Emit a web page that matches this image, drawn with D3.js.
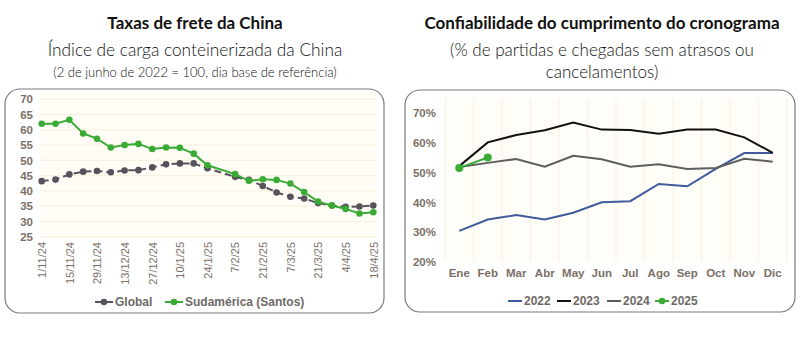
<!DOCTYPE html>
<html>
<head>
<meta charset="utf-8">
<script src="https://cdn.jsdelivr.net/npm/d3@7/dist/d3.min.js"></script>
<style>
  body { margin: 0; background: #fff; }
  svg { display: block; }
</style>
</head>
<body>
<div id="chart"></div>
<script>
// ---------------- data ----------------
var weeks = ["1/11/24","8/11/24","15/11/24","22/11/24","29/11/24","6/12/24","13/12/24","20/12/24",
  "27/12/24","3/1/25","10/1/25","17/1/25","24/1/25","31/1/25","7/2/25","14/2/25","21/2/25","28/2/25",
  "7/3/25","14/3/25","21/3/25","28/3/25","4/4/25","11/4/25","18/4/25"];
var globalIdx = [43.2,43.7,45.4,46.3,46.5,46.1,46.7,46.8,47.7,48.7,49.0,49.0,47.4,null,44.6,43.6,
  41.6,39.5,38.1,37.5,36.0,35.2,34.8,34.9,35.2];
var santosIdx = [62.0,62.0,63.3,58.8,57.1,54.2,55.0,55.4,53.7,54.2,54.1,52.2,48.4,null,45.5,43.3,
  43.8,43.6,42.4,39.6,36.5,35.2,34.1,32.6,33.0];
var leftTicks = [25,30,35,40,45,50,55,60,65,70];

var months = ["Ene","Feb","Mar","Abr","May","Jun","Jul","Ago","Sep","Oct","Nov","Dic"];
var y2022 = [30.4,34.2,35.7,34.2,36.5,40.0,40.4,46.2,45.4,51.3,56.6,56.6];
var y2023 = [52.2,60.2,62.7,64.3,66.9,64.5,64.4,63.1,64.5,64.5,61.9,56.7];
var y2024 = [51.9,53.3,54.6,52.0,55.7,54.5,52.0,52.8,51.2,51.6,54.7,53.7];
var y2025 = [51.6,55.1];
var rightTicks = [20,30,40,50,60,70];

var W = 800, H = 363;
var svg = d3.select("#chart").append("svg").attr("width", W).attr("height", H);

var tickColor = "#7b7068";
var labelFont = "'Liberation Sans', Arial, sans-serif";

//////////////////// titles ////////////////////
function title(x, lines) {
  lines.forEach(function (l) {
    svg.append("text")
      .attr("x", x).attr("y", l.y)
      .attr("text-anchor", "middle")
      .attr("font-family", "Lato, 'Open Sans', sans-serif")
      .attr("font-size", l.size)
      .attr("font-weight", l.weight)
      .attr("fill", "#111")
      .text(l.t);
  });
}
title(195, [
  {t: "Taxas de frete da China", y: 29, size: 17, weight: 700},
  {t: "Índice de carga conteinerizada da China", y: 56, size: 17.3, weight: 300},
  {t: "(2 de junho de 2022 = 100, dia base de referência)", y: 77, size: 13, weight: 300}
]);
title(602, [
  {t: "Confiabilidade do cumprimento do cronograma", y: 29, size: 17, weight: 700},
  {t: "(% de partidas e chegadas sem atrasos ou", y: 56, size: 17, weight: 300},
  {t: "cancelamentos)", y: 78, size: 17, weight: 300}
]);

//////////////////// panel boxes ////////////////////
svg.append("rect").attr("x", 5).attr("y", 89).attr("width", 379).attr("height", 224)
  .attr("rx", 15).attr("fill", "#fff").attr("stroke", "#7a7a7a").attr("stroke-width", 1.2);
svg.append("rect").attr("x", 405).attr("y", 90).attr("width", 390).attr("height", 222)
  .attr("rx", 15).attr("fill", "#fff").attr("stroke", "#7a7a7a").attr("stroke-width", 1.2);

//////////////////// left chart ////////////////////
var xL = d3.scalePoint().domain(weeks).range([41.7, 373.3]);
var yL = d3.scaleLinear().domain([25, 70]).range([236.7, 99.3]);

var L = svg.append("g");
L.append("rect").attr("x", 40).attr("y", 93).attr("width", 336).attr("height", 145)
  .attr("fill", "#fffdf6");
L.selectAll(".gridL").data(leftTicks).enter().append("line")
  .attr("x1", 40).attr("x2", 376)
  .attr("y1", function (d) { return yL(d); }).attr("y2", function (d) { return yL(d); })
  .attr("stroke", "#fbeedd").attr("stroke-width", 1);

var yAxisL = L.append("g").attr("transform", "translate(35,0)")
  .call(d3.axisLeft(yL).tickValues(leftTicks).tickSize(0).tickPadding(2));
yAxisL.select(".domain").remove();
yAxisL.selectAll("text").attr("font-family", labelFont).attr("font-size", 11.5)
  .attr("font-weight", "bold").attr("fill", tickColor);

var xAxisL = L.append("g").attr("transform", "translate(0,238)")
  .call(d3.axisBottom(xL).tickValues(weeks.filter(function (d, i) { return i % 2 === 0; }))
    .tickSize(0));
xAxisL.select(".domain").remove();
xAxisL.selectAll("text")
  .attr("transform", "rotate(-90)")
  .attr("x", -4).attr("y", 0).attr("dy", "0.35em")
  .style("text-anchor", "end")
  .attr("font-family", labelFont).attr("font-size", 11).attr("fill", tickColor);

function seriesL(vals, color, dash) {
  var pts = vals.map(function (v, i) { return {k: weeks[i], v: v}; })
    .filter(function (d) { return d.v !== null; });
  var line = d3.line().x(function (d) { return xL(d.k); }).y(function (d) { return yL(d.v); });
  L.append("path").attr("d", line(pts)).attr("fill", "none")
    .attr("stroke", color).attr("stroke-width", 2)
    .attr("stroke-dasharray", dash);
  L.selectAll(null).data(pts).enter().append("circle")
    .attr("cx", function (d) { return xL(d.k); }).attr("cy", function (d) { return yL(d.v); })
    .attr("r", 3.3).attr("fill", color);
}
seriesL(globalIdx, "#57535c", "7,4");
seriesL(santosIdx, "#3aab35", null);

// legend left
var legL = [{name: "Global", color: "#57535c", x: 95}, {name: "Sudamérica (Santos)", color: "#3aab35", x: 165}];
legL.forEach(function (d) {
  L.append("line").attr("x1", d.x).attr("x2", d.x + 18).attr("y1", 302).attr("y2", 302)
    .attr("stroke", d.color).attr("stroke-width", 2);
  L.append("circle").attr("cx", d.x + 9).attr("cy", 302).attr("r", 3.3).attr("fill", d.color);
  L.append("text").attr("x", d.x + 20).attr("y", 306)
    .attr("font-family", labelFont).attr("font-size", 12).attr("font-weight", "bold")
    .attr("fill", "#6e6a66").text(d.name);
});

//////////////////// right chart ////////////////////
var xR = d3.scaleBand().domain(months).range([445, 787]).padding(0);
var yR = d3.scaleLinear().domain([20, 70]).range([261.7, 113.3]);
var cx = function (m) { return xR(m) + xR.bandwidth() / 2; };

var R = svg.append("g");
R.append("rect").attr("x", 445).attr("y", 98).attr("width", 342).attr("height", 164)
  .attr("fill", "#fffdf8");
R.selectAll(".gridR").data(months.concat(["end"])).enter().append("line")
  .attr("x1", function (d, i) { return 445 + i * xR.bandwidth(); })
  .attr("x2", function (d, i) { return 445 + i * xR.bandwidth(); })
  .attr("y1", 98).attr("y2", 262)
  .attr("stroke", "#fcefe3").attr("stroke-width", 1);

var yAxisR = R.append("g").attr("transform", "translate(438,0)")
  .call(d3.axisLeft(yR).tickValues(rightTicks).tickSize(0).tickPadding(2)
    .tickFormat(function (d) { return d + "%"; }));
yAxisR.select(".domain").remove();
yAxisR.selectAll("text").attr("font-family", labelFont).attr("font-size", 11.5)
  .attr("font-weight", "bold").attr("fill", tickColor);

var xAxisR = R.append("g").attr("transform", "translate(0,266)")
  .call(d3.axisBottom(xR).tickSize(0).tickPadding(3));
xAxisR.select(".domain").remove();
xAxisR.selectAll("text").attr("font-family", labelFont).attr("font-size", 11.5)
  .attr("font-weight", "bold").attr("fill", tickColor);

var lineR = d3.line().x(function (d) { return cx(d.m); }).y(function (d) { return yR(d.v); });
function seriesR(vals, color, markers) {
  var pts = vals.map(function (v, i) { return {m: months[i], v: v}; });
  R.append("path").attr("d", lineR(pts)).attr("fill", "none")
    .attr("stroke", color).attr("stroke-width", 2);
  if (markers) {
    R.selectAll(null).data(pts).enter().append("circle")
      .attr("cx", function (d) { return cx(d.m); }).attr("cy", function (d) { return yR(d.v); })
      .attr("r", 4).attr("fill", color);
  }
}
seriesR(y2022, "#3f5b9c", false);
seriesR(y2024, "#5e5e5e", false);
seriesR(y2023, "#111111", false);
seriesR(y2025, "#3aab35", true);

// legend right
var legR = [
  {name: "2022", color: "#3f5b9c", x: 508, m: false},
  {name: "2023", color: "#111111", x: 557, m: false},
  {name: "2024", color: "#5e5e5e", x: 607, m: false},
  {name: "2025", color: "#3aab35", x: 655, m: true}
];
legR.forEach(function (d) {
  R.append("line").attr("x1", d.x).attr("x2", d.x + 14).attr("y1", 301).attr("y2", 301)
    .attr("stroke", d.color).attr("stroke-width", 2);
  if (d.m) R.append("circle").attr("cx", d.x + 7).attr("cy", 301).attr("r", 3.3).attr("fill", d.color);
  R.append("text").attr("x", d.x + 16).attr("y", 305)
    .attr("font-family", labelFont).attr("font-size", 12).attr("font-weight", "bold")
    .attr("fill", "#6e6a66").text(d.name);
});
</script>
</body>
</html>
